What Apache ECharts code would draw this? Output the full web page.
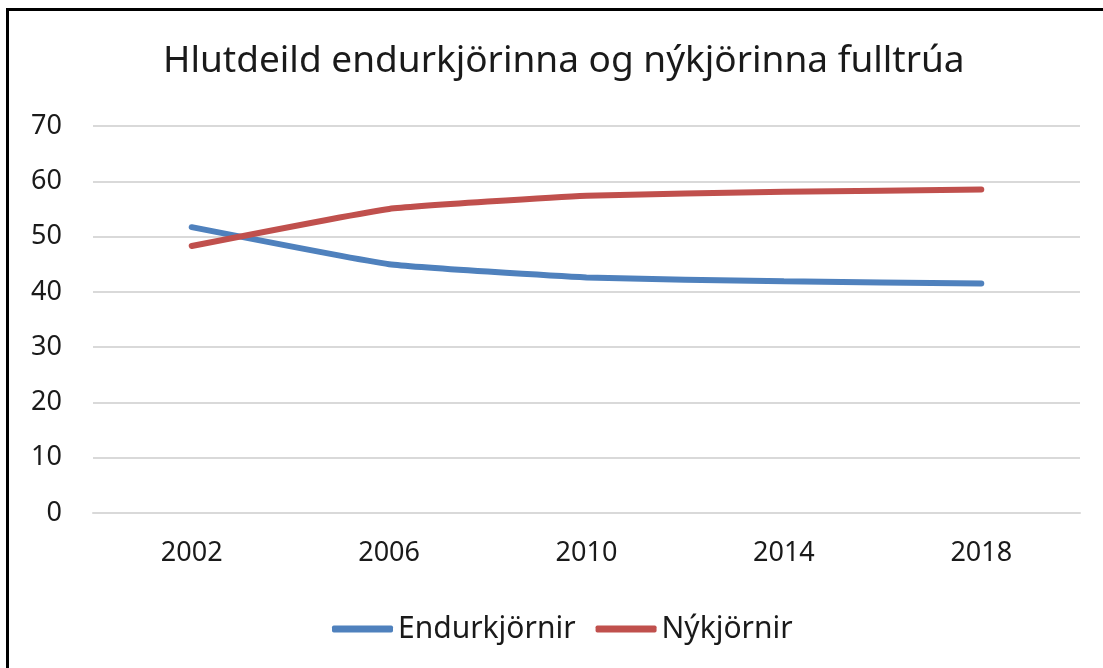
<!DOCTYPE html>
<html>
<head>
<meta charset="utf-8">
<script src="https://cdn.jsdelivr.net/npm/echarts@6/dist/echarts.min.js"></script>
<style>
  html, body { margin: 0; padding: 0; background: #fff; overflow: hidden; }
  #chart { position: absolute; left: 0; top: 0; width: 1103px; height: 668px; }
  #frame { position: absolute; left: 6px; top: 8px; width: 1200px; height: 800px;
           border-left: 3px solid #000; border-top: 3px solid #000; pointer-events: none; }
</style>
</head>
<body>
<div id="chart"></div>
<div id="frame"></div>
<script>
var years = ['2002', '2006', '2010', '2014', '2018'];
var endurkjornir = [51.7, 45.0, 42.6, 41.9, 41.5];
var nykjornir = [48.3, 55.0, 57.4, 58.1, 58.5];

var font = 'Noto Sans';
var chart = echarts.init(document.getElementById('chart'));

var option = {
    animation: false,
    title: {
        text: 'Hlutdeild endurkjörinna og nýkjörinna fulltrúa',
        left: 158,
        top: 38,
        textStyle: { fontFamily: font, fontSize: 37, fontWeight: 'normal', color: '#1a1a1a' }
    },
    legend: {
        bottom: 19,
        left: 327,
        icon: 'roundRect',
        itemWidth: 61,
        itemHeight: 7,
        itemGap: 20,
        textStyle: { fontFamily: font, fontSize: 30, color: '#1a1a1a' },
        data: ['Endurkjörnir', 'Nýkjörnir']
    },
    grid: { left: 93, right: 23, top: 126, bottom: 155 },
    xAxis: {
        type: 'category',
        data: years,
        boundaryGap: true,
        axisLine: { lineStyle: { color: '#d9d9d9', width: 2 } },
        axisTick: { show: false },
        axisLabel: { fontFamily: font, fontSize: 27, color: '#1a1a1a', margin: 27 }
    },
    yAxis: {
        type: 'value',
        min: 0,
        max: 70,
        interval: 10,
        axisLine: { show: false },
        axisTick: { show: false },
        splitLine: { lineStyle: { color: '#d9d9d9', width: 2 } },
        axisLabel: { fontFamily: font, fontSize: 27, color: '#1a1a1a', margin: 31 }
    },
    series: [
        {
            name: 'Endurkjörnir',
            type: 'line',
            data: endurkjornir,
            smooth: 0.12,
            symbol: 'none',
            lineStyle: { color: '#4f81bd', width: 6, cap: 'round' },
            itemStyle: { color: '#4f81bd' }
        },
        {
            name: 'Nýkjörnir',
            type: 'line',
            data: nykjornir,
            smooth: 0.12,
            symbol: 'none',
            lineStyle: { color: '#c0504d', width: 6, cap: 'round' },
            itemStyle: { color: '#c0504d' }
        }
    ]
};
chart.setOption(option);
</script>
</body>
</html>
